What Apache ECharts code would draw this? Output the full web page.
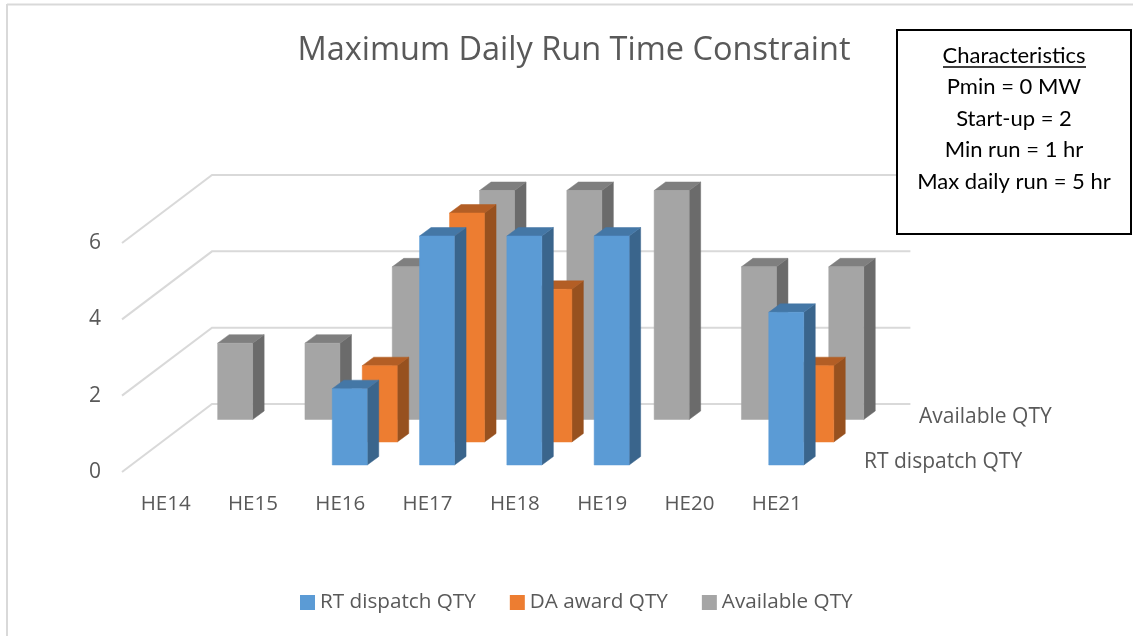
<!DOCTYPE html>
<html>
<head>
<meta charset="utf-8">
<style>html,body{margin:0;padding:0;background:#fff}#c{width:1133px;height:636px}</style>
<script src="https://cdn.jsdelivr.net/npm/echarts@6/dist/echarts.min.js"></script>
</head>
<body>
<div id="c"></div>
<script>
const categories = ['HE14','HE15','HE16','HE17','HE18','HE19','HE20','HE21'];
const rtDispatch = [0,0,2,6,6,6,0,4];
const daAward    = [0,0,2,6,4,0,0,2];
const available  = [2,2,4,6,6,6,4,4];
const yTicks = [0,2,4,6];
const boxLines = ['Characteristics','Pmin = 0 MW','Start-up = 2','Min run = 1 hr','Max daily run = 5 hr'];

const FONT = '"Open Sans"', BOXFONT = 'Lato', GREY = '#595959', GRID = '#d9d9d9';
const WALL = [90,-68], BAR_W = 35, SIDE = [11.5,-8.5];

function barRenderer(offset, front, side, top) {
  return function (params, api) {
    const v = api.value(1);
    if (!v) return null;
    const b = api.coord([api.value(0), 0]), t = api.coord([api.value(0), v]);
    const x0 = b[0] + offset[0] - BAR_W/2, x1 = x0 + BAR_W;
    const yb = b[1] + offset[1], yt = t[1] + offset[1];
    const poly = (pts, fill) => ({type:'polygon', shape:{points:pts}, style:{fill, stroke:fill, lineWidth:0.5}});
    return {type:'group', children:[
      poly([[x1,yb],[x1+SIDE[0],yb+SIDE[1]],[x1+SIDE[0],yt+SIDE[1]],[x1,yt]], side),
      poly([[x0,yt],[x1,yt],[x1+SIDE[0],yt+SIDE[1]],[x0+SIDE[0],yt+SIDE[1]]], top),
      poly([[x0,yb],[x1,yb],[x1,yt],[x0,yt]], front)
    ]};
  };
}
function barSeries(name, values, offset, colors, z) {
  return {
    name, type:'custom', coordinateSystem:'cartesian2d', z, clip:false,
    itemStyle:{color:colors[0]}, encode:{x:0,y:1},
    data: values.map((v,i)=>[i,v]),
    renderItem: barRenderer(offset, colors[0], colors[1], colors[2])
  };
}
const wallSeries = {
  name:'wall', type:'custom', coordinateSystem:'cartesian2d', z:1, silent:true, clip:false,
  encode:{y:1}, data: yTicks.map(t=>[0,t]),
  renderItem(params, api){
    const y = api.coord([0, api.value(1)])[1], c = params.coordSys;
    return {type:'polyline', shape:{points:[[c.x,y],[c.x+WALL[0],y+WALL[1]],[c.x+c.width+WALL[0],y+WALL[1]]]},
      style:{fill:'none', stroke:GRID, lineWidth:2}};
  }
};

const chart = echarts.init(document.getElementById('c'), null, {renderer:'canvas'});
const boxGraphics = boxLines.map((s,i)=>({
  type:'text', z:21, x:1014, y:56+i*31.4,
  style:{text:s, fill:'#000', font:'22px '+BOXFONT, textAlign:'center', textVerticalAlign:'middle'}
}));
chart.setOption({
  animation:false,
  backgroundColor:'#fff',
  title:{text:'Maximum Daily Run Time Constraint', left:574, top:29, textAlign:'center', padding:[5,10,5,0],
    textStyle:{fontFamily:FONT, fontSize:32.5, fontWeight:'normal', color:GREY}},
  legend:{left:295, top:587, itemWidth:15, itemHeight:15, itemGap:34, icon:'rect',
    data:['RT dispatch QTY','DA award QTY','Available QTY'],
    textStyle:{fontFamily:FONT, fontSize:20.7, color:GREY}},
  grid:{left:122, top:243, width:698.4, height:229},
  xAxis:{type:'category', data:categories, axisLine:{show:false}, axisTick:{show:false},
    axisLabel:{fontFamily:FONT, fontSize:20.5, color:GREY, margin:22}},
  yAxis:{type:'value', min:0, max:6, interval:2, axisLine:{show:false}, axisTick:{show:false},
    splitLine:{show:false}, axisLabel:{fontFamily:FONT, fontSize:21, color:GREY, margin:21}},
  series:[
    barSeries('RT dispatch QTY', rtDispatch, [9.5,-7], ['#5B9BD5','#3A658C','#4477A6'], 5),
    barSeries('DA award QTY', daAward, [39.5,-30], ['#ED7D31','#97511F','#B35E25'], 4),
    barSeries('Available QTY', available, [69.5,-52.5], ['#A5A5A5','#6B6B6B','#7F7F7F'], 3),
    wallSeries
  ],
  graphic:[
    {type:'line', z:0, shape:{x1:7,y1:4.5,x2:1133,y2:4.5}, style:{stroke:GRID,lineWidth:2}},
    {type:'line', z:0, shape:{x1:7,y1:4,x2:7,y2:636}, style:{stroke:GRID,lineWidth:2}},
    {type:'text', x:919, y:417, style:{text:'Available QTY', fill:GREY, font:'21px '+FONT, textVerticalAlign:'middle'}},
    {type:'text', x:864, y:462, style:{text:'RT dispatch QTY', fill:GREY, font:'21px '+FONT, textVerticalAlign:'middle'}},
    {type:'rect', z:20, shape:{x:897,y:30,width:234,height:204}, style:{fill:'#fff',stroke:'#000',lineWidth:2}},
    {type:'line', z:21, shape:{x1:943,y1:67,x2:1086,y2:67}, style:{stroke:'#000',lineWidth:1.3}}
  ].concat(boxGraphics)
});
</script>
</body>
</html>
